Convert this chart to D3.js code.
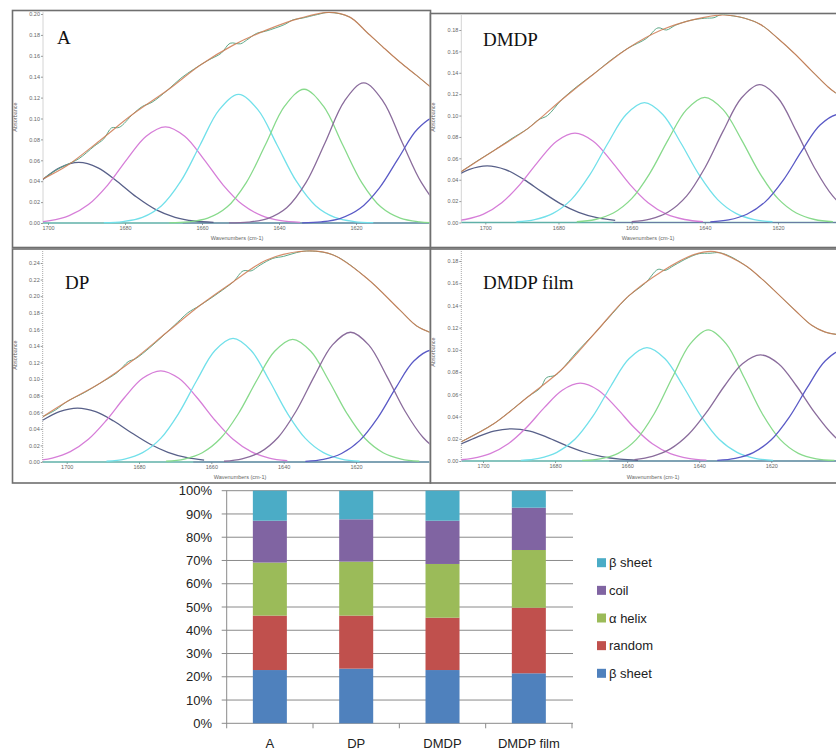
<!DOCTYPE html>
<html><head><meta charset="utf-8">
<script src="https://cdn.jsdelivr.net/npm/d3@7"></script>
<style>body{margin:0;background:#fff}svg{display:block}</style>
</head><body>
<svg id="c" width="836" height="751"></svg>
<script>
// ---------------- DATA ----------------
const panelNames = ["A", "DMDP", "DP", "DMDP film"];
const xTicks = [1700, 1680, 1660, 1640, 1620];
const yTicksA = [0, 0.02, 0.04, 0.06, 0.08, 0.10, 0.12, 0.14, 0.16, 0.18, 0.20];
const yTicksDMDP = [0, 0.02, 0.04, 0.06, 0.08, 0.10, 0.12, 0.14, 0.16, 0.18];
const yTicksDP = [0, 0.02, 0.04, 0.06, 0.08, 0.10, 0.12, 0.14, 0.16, 0.18, 0.20, 0.22, 0.24];
const yTicksFilm = [0, 0.02, 0.04, 0.06, 0.08, 0.10, 0.12, 0.14, 0.16, 0.18];

// wavenumber offsets (cm-1) around each band centre at which band heights were read
const peakOffsets = [-35, -30, -25, -20, -15, -10, -5, 0, 5, 10, 15, 20, 25, 30, 35];

// band centres (cm-1) for components: slate, magenta, cyan, green, purple, blue
const centersA = [1692, 1669.5, 1650.5, 1633.5, 1618, 1599];
const bandsA = [
  [.0006,.0019,.0055,.0128,.0248,.0397,.0528,.058,.0528,.0397,.0248,.0128,.0055,.0019,.0006],
  [.0006,.0022,.0070,.0176,.0363,.0609,.083,.092,.083,.0609,.0363,.0176,.0070,.0022,.0006],
  [.0003,.0014,.0054,.0166,.0400,.0747,.1085,.123,.1085,.0747,.0400,.0166,.0054,.0014,.0003],
  [.0002,.0011,.0046,.0152,.0387,.0751,.112,.128,.112,.0751,.0387,.0152,.0046,.0011,.0002],
  [.0001,.0009,.0042,.0146,.0386,.0771,.1167,.134,.1167,.0771,.0386,.0146,.0042,.0009,.0001],
  [.0002,.0011,.0045,.0138,.0332,.0619,.09,.102,.09,.0619,.0332,.0138,.0045,.0011,.0002]
];
const centersDMDP = [1699.5, 1675.5, 1656.5, 1640, 1625, 1603.5];
const bandsDMDP = [
  [.0019,.0045,.0095,.0177,.0286,.0403,.0495,.053,.0495,.0403,.0286,.0177,.0095,.0045,.0019],
  [.0008,.0028,.0078,.0185,.0357,.0572,.076,.0835,.076,.0572,.0357,.0185,.0078,.0028,.0008],
  [.0007,.0027,.0085,.0214,.0442,.0741,.101,.112,.101,.0741,.0442,.0214,.0085,.0027,.0007],
  [.0007,.0028,.0089,.0223,.0462,.0775,.1055,.117,.1055,.0775,.0462,.0223,.0089,.0028,.0007],
  [.0008,.0031,.0098,.0246,.051,.0854,.1164,.129,.1164,.0854,.051,.0246,.0098,.0031,.0008],
  [.0006,.0024,.0077,.0193,.0399,.0669,.0911,.101,.0911,.0669,.0399,.0193,.0077,.0024,.0006]
];
const centersDP = [1697, 1674, 1654, 1637.5, 1621.5, 1599];
const bandsDP = [
  [.0023,.0055,.0117,.0217,.035,.0494,.0607,.065,.0607,.0494,.035,.0217,.0117,.0055,.0023],
  [.0015,.0048,.0125,.0274,.0504,.0778,.1009,.11,.1009,.0778,.0504,.0274,.0125,.0048,.0015],
  [.0009,.0036,.0113,.0285,.0589,.0986,.1344,.149,.1344,.0986,.0589,.0285,.0113,.0036,.0009],
  [.0009,.0036,.0112,.0283,.0585,.098,.1335,.148,.1335,.098,.0585,.0283,.0112,.0036,.0009],
  [.0009,.0038,.0119,.0299,.0618,.1036,.1412,.1565,.1412,.1036,.0618,.0299,.0119,.0038,.0009],
  [.0008,.0032,.0103,.0258,.0533,.0894,.1218,.135,.1218,.0894,.0533,.0258,.0103,.0032,.0008]
];
const centersFilm = [1692, 1673, 1654.5, 1637.5, 1623, 1600];
const bandsFilm = [
  [.0006,.0016,.0039,.0081,.0141,.0211,.0268,.029,.0268,.0211,.0141,.0081,.0039,.0016,.0006],
  [.0007,.0023,.0066,.0155,.0299,.048,.0637,.07,.0637,.048,.0299,.0155,.0066,.0023,.0007],
  [.0006,.0024,.0078,.0195,.0403,.0675,.092,.102,.092,.0675,.0403,.0195,.0078,.0024,.0006],
  [.0005,.002,.0069,.0192,.0425,.0749,.1054,.118,.1054,.0749,.0425,.0192,.0069,.002,.0005],
  [.0013,.0042,.0109,.0238,.0437,.0675,.0876,.0955,.0876,.0675,.0437,.0238,.0109,.0042,.0013],
  [.0006,.0024,.0076,.0191,.0395,.0662,.0902,.1,.0902,.0662,.0395,.0191,.0076,.0024,.0006]
];

// fitted envelope and measured spectrum [wavenumber, absorbance]
const fitA = [[1701.3,.0422],[1695,.055],[1686.5,.079],[1678,.104],[1669,.127],[1660.5,.151],[1652,.170],[1643,.185],[1634.5,.196],[1627,.2015],[1621.6,.197],[1617.2,.1826],[1612.9,.168],[1608.6,.154],[1604.2,.141],[1600.8,.1306]];
const measuredA = [[1701.3,.0422],[1697.5,.0515],[1695,.056],[1692,.0615],[1688,.0735],[1685.5,.0805],[1683.5,.091],[1681.5,.0915],[1678,.104],[1675.5,.1115],[1673,.1155],[1669,.127],[1665.5,.1385],[1662,.1475],[1658.5,.1555],[1655,.1625],[1652.7,.172],[1650,.1715],[1648.4,.175],[1645.8,.1815],[1643.5,.1835],[1641,.1865],[1638.5,.190],[1636.3,.1945],[1634,.196],[1630,.1995],[1627,.2015],[1621.6,.197],[1617.2,.1826],[1612.9,.168],[1608.6,.154],[1604.2,.141],[1600.8,.1306]];
const fitDMDP = [[1706.6,.0475],[1697.4,.0678],[1688.3,.088],[1679.2,.1146],[1670.1,.1396],[1661,.163],[1651.9,.180],[1642.8,.190],[1635.5,.194],[1629.1,.191],[1624.6,.1848],[1620,.172],[1615.5,.158],[1611,.1425],[1606.4,.127],[1604.2,.121]];
const measuredDMDP = [[1706.6,.0475],[1702,.058],[1697.4,.0678],[1693,.078],[1688.3,.088],[1685.5,.096],[1683,.100],[1679.2,.1146],[1675,.127],[1670.1,.1396],[1666,.151],[1661,.163],[1656,.172],[1652.8,.182],[1650.5,.180],[1648,.1845],[1644,.189],[1640,.191],[1637.5,.1915],[1635.5,.1945],[1633,.1935],[1629.1,.191],[1624.6,.1848],[1620,.172],[1615.5,.158],[1611,.1425],[1606.4,.127],[1604.2,.121]];
const fitDP = [[1706.6,.0547],[1700,.0727],[1690.8,.095],[1681.6,.123],[1672.3,.1564],[1663.1,.189],[1653.9,.2175],[1644.7,.2437],[1633.6,.2545],[1626.3,.2497],[1617,.2216],[1607.9,.1834],[1603.2,.164],[1599.5,.1564]];
const measuredDP = [[1706.6,.0547],[1703,.063],[1700,.0727],[1695,.084],[1690.8,.095],[1686,.108],[1683,.121],[1681,.1245],[1677,.138],[1672.3,.1564],[1668.5,.172],[1666.5,.180],[1663.1,.189],[1658,.204],[1653.9,.2175],[1651.2,.2305],[1649,.2305],[1646.5,.2375],[1643,.2455],[1640,.248],[1636.5,.2525],[1633.6,.2545],[1626.3,.2497],[1617,.2216],[1607.9,.1834],[1603.2,.164],[1599.5,.1564]];
const fitFilm = [[1706,.0174],[1696.8,.034],[1687.5,.0579],[1678.3,.0819],[1669,.115],[1659.8,.1479],[1650.5,.1704],[1641.3,.186],[1635.7,.1884],[1627.4,.1764],[1622.8,.1644],[1613.5,.1359],[1608.9,.1224],[1605,.116],[1602,.114]];
const measuredFilm = [[1706,.0174],[1701,.026],[1696.8,.034],[1692,.046],[1687.5,.0579],[1684,.066],[1682.4,.075],[1680,.077],[1678.3,.0819],[1674,.098],[1669,.115],[1664,.133],[1659.8,.1479],[1655,.160],[1651.4,.1725],[1649.5,.1715],[1647,.176],[1643,.183],[1640,.1866],[1637,.187],[1634.5,.1875],[1632,.185],[1627.4,.1764],[1622.8,.1644],[1613.5,.1359],[1608.9,.1224],[1605,.116],[1602,.114]];

// bar chart
const barCategories = ["A", "DP", "DMDP", "DMDP film"];
const seriesNames = ["β sheet", "random", "α helix", "coil", "β sheet"];
const betaSheetLow = [22.9, 23.5, 22.9, 21.5];
const randomCoil = [23.4, 22.8, 22.5, 28.2];
const alphaHelix = [22.8, 23.2, 23.1, 24.8];
const coil = [18.0, 18.2, 18.6, 18.2];
const betaSheetHigh = [12.9, 12.3, 12.9, 7.3];
const percentTicks = [0, 10, 20, 30, 40, 50, 60, 70, 80, 90, 100];

// ---------------- STYLE / LAYOUT ----------------
const bandColors = ["#586089", "#d67ed8", "#72e0ea", "#88da8c", "#8a6c9c", "#5a5ac6"];
const seriesColors = ["#4f81bd", "#c0504d", "#9bbb59", "#8064a2", "#4bacc6"];

const panels = [
  {name: panelNames[0], yTicks: yTicksA, centers: centersA, bands: bandsA, fit: fitA, measured: measuredA,
   frame: [12.5, 10.5, 430.5, 247.5], xPx: [48, 356], base: 223, yRef: 0.20, yRefPx: 14, axisX: 43,
   label: [57, 43.5], absPos: [17, 117], wnPos: [237, 240]},
  {name: panelNames[1], yTicks: yTicksDMDP, centers: centersDMDP, bands: bandsDMDP, fit: fitDMDP, measured: measuredDMDP,
   frame: [430.5, 13.5, 850, 247.5], xPx: [485.3, 778], base: 222.5, yRef: 0.18, yRefPx: 30, axisX: 461.3,
   label: [483, 45.5], absPos: [435, 117], wnPos: [648, 240]},
  {name: panelNames[2], yTicks: yTicksDP, centers: centersDP, bands: bandsDP, fit: fitDP, measured: measuredDP,
   frame: [12.5, 249, 430.5, 483], xPx: [66.7, 356], base: 462, yRef: 0.24, yRefPx: 263, axisX: 42.7,
   label: [65, 289], absPos: [17, 355], wnPos: [240, 479]},
  {name: panelNames[3], yTicks: yTicksFilm, centers: centersFilm, bands: bandsFilm, fit: fitFilm, measured: measuredFilm,
   frame: [430.5, 249, 850, 483], xPx: [483, 771.3], base: 461, yRef: 0.18, yRefPx: 261, axisX: 461.3,
   label: [483, 289], absPos: [435, 352], wnPos: [653, 478.5]}
];

const svg = d3.select("#c");
svg.append("rect").attr("width", 836).attr("height", 751).attr("fill", "#fff");

// frames
panels.forEach(p => {
  const f = p.frame;
  svg.append("rect").attr("x", f[0]).attr("y", f[1]).attr("width", f[2] - f[0]).attr("height", f[3] - f[1])
    .attr("fill", "#fff").attr("stroke", "#6f6f6f").attr("stroke-width", 1.6);
});

const defs = svg.append("defs");

panels.forEach((p, pi) => {
  const x = d3.scaleLinear().domain([xTicks[0], xTicks[xTicks.length - 1]]).range(p.xPx);
  const y = d3.scaleLinear().domain([0, p.yRef]).range([p.base, p.yRefPx]);
  const g = svg.append("g");
  const right = Math.min(p.frame[2] - 1, 836);

  defs.append("clipPath").attr("id", "clip" + pi).append("rect")
    .attr("x", p.axisX).attr("y", p.frame[1] + 1).attr("width", right - p.axisX).attr("height", p.base - p.frame[1] + 1);

  // y axis
  const ya = g.append("g").attr("transform", `translate(${p.axisX},0)`)
    .call(d3.axisLeft(y).tickValues(p.yTicks).tickSize(2).tickSizeOuter(0).tickFormat(d3.format(".2f")));
  ya.select(".domain").remove();
  ya.append("line").attr("x1", 0).attr("x2", 0).attr("y1", p.frame[1] + 2).attr("y2", p.base)
    .attr("stroke", "#a8a8a8").attr("stroke-dasharray", "1,1");
  ya.selectAll(".tick line").attr("stroke", "#999");
  ya.selectAll(".tick text").attr("font-size", 5.5).attr("fill", "#666").attr("font-family", "Liberation Sans, Arial, sans-serif").attr("x", -3);

  // x axis
  const xa = g.append("g").attr("transform", `translate(0,${p.base})`)
    .call(d3.axisBottom(x).tickValues(xTicks).tickSize(2).tickSizeOuter(0).tickFormat(d3.format("d")));
  xa.select(".domain").remove();
  xa.selectAll(".tick line").attr("stroke", "#999");
  xa.selectAll(".tick text").attr("font-size", 5.5).attr("fill", "#666").attr("font-family", "Liberation Sans, Arial, sans-serif").attr("y", 3.5);

  g.append("text").attr("transform", `translate(${p.absPos[0]},${p.absPos[1]}) rotate(-90)`)
    .attr("text-anchor", "middle").attr("font-size", 5.5).attr("fill", "#666")
    .attr("font-family", "Liberation Sans, Arial, sans-serif").text("Absorbance");
  g.append("text").attr("x", p.wnPos[0]).attr("y", p.wnPos[1]).attr("text-anchor", "middle")
    .attr("font-size", 5.5).attr("fill", "#666").attr("font-family", "Liberation Sans, Arial, sans-serif")
    .text("Wavenumbers (cm-1)");

  const plot = g.append("g").attr("clip-path", `url(#clip${pi})`);
  // baseline
  plot.append("line").attr("x1", p.axisX).attr("x2", right).attr("y1", y(0)).attr("y2", y(0))
    .attr("stroke", "#5fb0a8").attr("stroke-width", 1.6);
  plot.append("line").attr("x1", x(1665)).attr("x2", right).attr("y1", y(0)).attr("y2", y(0))
    .attr("stroke", "#6f5fa0").attr("stroke-width", 0.9).attr("opacity", 0.7);

  const line = d3.line().x(d => x(d[0])).y(d => y(d[1])).curve(d3.curveCatmullRom.alpha(0.5));
  p.bands.forEach((vals, i) => {
    const pts = peakOffsets.map((o, k) => [p.centers[i] + o, vals[k]]);
    plot.append("path").attr("d", line(pts)).attr("fill", "none")
      .attr("stroke", bandColors[i]).attr("stroke-width", 1.3);
  });
  plot.append("path").attr("d", line(p.measured)).attr("fill", "none")
    .attr("stroke", "#5ea888").attr("stroke-width", 1.0);
  plot.append("path").attr("d", line(p.fit)).attr("fill", "none")
    .attr("stroke", "#cf7a52").attr("stroke-width", 1.2).attr("opacity", 0.85);

  g.append("text").attr("x", p.label[0]).attr("y", p.label[1])
    .attr("font-family", "Liberation Serif, Times New Roman, serif").attr("font-size", 19)
    .attr("fill", "#111").text(p.name);
});

// ---------------- BAR CHART ----------------
const rows = barCategories.map((c, i) => ({cat: c, s0: betaSheetLow[i], s1: randomCoil[i], s2: alphaHelix[i], s3: coil[i], s4: betaSheetHigh[i]}));
const keys = ["s0", "s1", "s2", "s3", "s4"];
const stacked = d3.stack().keys(keys)(rows);
const yb = d3.scaleLinear().domain([0, 100]).range([723.3, 490.7]);
const xb = d3.scaleBand().domain(barCategories).range([226.7, 572]);
const bg = svg.append("g");
const font = "Liberation Sans, Arial, sans-serif";

percentTicks.forEach(t => {
  bg.append("line").attr("x1", 221.7).attr("x2", 573).attr("y1", yb(t)).attr("y2", yb(t))
    .attr("stroke", "#8a8a8a").attr("stroke-width", 1);
  bg.append("text").attr("x", 212).attr("y", yb(t)).attr("dy", "0.36em").attr("text-anchor", "end")
    .attr("font-family", font).attr("font-size", 13).attr("fill", "#222").text(t + "%");
});
bg.append("line").attr("x1", 226.7).attr("x2", 226.7).attr("y1", yb(100)).attr("y2", yb(0)).attr("stroke", "#8a8a8a");
d3.range(barCategories.length + 1).forEach(i => {
  const xx = 226.7 + i * xb.step();
  bg.append("line").attr("x1", xx).attr("x2", xx).attr("y1", yb(0)).attr("y2", yb(0) + 5).attr("stroke", "#8a8a8a");
});

const bw = xb.bandwidth() * 0.394;
stacked.forEach((layer, li) => {
  bg.selectAll(null).data(layer).enter().append("rect")
    .attr("x", d => xb(d.data.cat) + (xb.bandwidth() - bw) / 2)
    .attr("y", d => yb(d[1])).attr("width", bw).attr("height", d => yb(d[0]) - yb(d[1]))
    .attr("fill", seriesColors[li]);
});
barCategories.forEach(c => {
  bg.append("text").attr("x", xb(c) + xb.bandwidth() / 2).attr("y", 748).attr("text-anchor", "middle")
    .attr("font-family", font).attr("font-size", 13).attr("fill", "#222").text(c);
});

// legend (top to bottom: last series first)
const legendY = d3.scaleLinear().domain([0, 4]).range([562.7, 673.3]);
seriesNames.slice().reverse().forEach((name, i) => {
  const si = seriesNames.length - 1 - i;
  bg.append("rect").attr("x", 597).attr("y", legendY(i) - 4.5).attr("width", 9).attr("height", 9).attr("fill", seriesColors[si]);
  bg.append("text").attr("x", 609).attr("y", legendY(i)).attr("dy", "0.36em")
    .attr("font-family", font).attr("font-size", 13).attr("fill", "#222").text(name);
});
</script>
</body></html>
